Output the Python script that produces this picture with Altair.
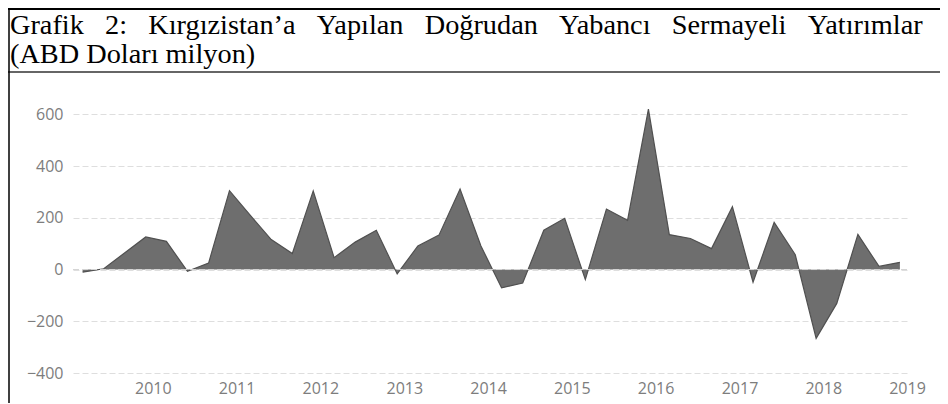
import altair as alt
import pandas as pd

# Quarterly FDI inflows to Kyrgyzstan (USD million)
dates = [
    "2009-03-01", "2009-06-01", "2009-09-01", "2009-12-01",
    "2010-03-01", "2010-06-01", "2010-09-01", "2010-12-01",
    "2011-03-01", "2011-06-01", "2011-09-01", "2011-12-01",
    "2012-03-01", "2012-06-01", "2012-09-01", "2012-12-01",
    "2013-03-01", "2013-06-01", "2013-09-01", "2013-12-01",
    "2014-03-01", "2014-06-01", "2014-09-01", "2014-12-01",
    "2015-03-01", "2015-06-01", "2015-09-01", "2015-12-01",
    "2016-03-01", "2016-06-01", "2016-09-01", "2016-12-01",
    "2017-03-01", "2017-06-01", "2017-09-01", "2017-12-01",
    "2018-03-01", "2018-06-01", "2018-09-01", "2018-12-01",
]
values = [
    -10, 3, 65, 126,
    109, -7, 25, 305,
    210, 116, 62, 304,
    46, 106, 152, -17,
    91, 133, 311, 91,
    -71, -52, 152, 198,
    -39, 234, 190, 620,
    135, 120, 81, 243,
    -49, 182, 57, -266,
    -131, 136, 12, 28,
]
y_ticks = [-400, -200, 0, 200, 400, 600]
x_years = [2010, 2011, 2012, 2013, 2014, 2015, 2016, 2017, 2018, 2019]

title_words = ["Grafik", "2:", "Kırgızistan’a", "Yapılan", "Doğrudan",
               "Yabancı", "Sermayeli", "Yatırımlar"]
title_line2 = "(ABD Doları milyon)"

NB = "\u00a0"
title_line1 = (NB * 3).join(title_words)

df = pd.DataFrame({"date": dates, "value": values})
one = pd.DataFrame({"a": [0]})

W, H = 834, 269

x_enc = alt.X(
    "date:T",
    scale=alt.Scale(type="utc",
                    domain=[alt.DateTime(year=2009, month=1, date=18, utc=True),
                            alt.DateTime(year=2019, month=1, date=1, utc=True)]),
    axis=alt.Axis(
        values=[alt.DateTime(year=y, month=1, date=1, utc=True) for y in x_years],
        labelExpr="utcFormat(datum.value, '%Y')",
        grid=False, ticks=False, domain=False,
        labelPadding=7, labelFlush=False, labelOverlap=False,
        labelFont="Open Sans", labelFontSize=16, labelColor="#7d7d7d",
        title=None,
    ),
)
y_enc = alt.Y(
    "value:Q",
    scale=alt.Scale(domain=[-400, 640], nice=False, zero=False),
    axis=alt.Axis(
        values=y_ticks, grid=True, gridDash=[6, 3], gridColor="#dedede",
        gridWidth=1, ticks=False, domain=False, labelPadding=10,
        labelFont="Open Sans", labelFontSize=16, labelColor="#7d7d7d",
        title=None,
    ),
)

area = alt.Chart(df).mark_area(
    color="#6e6e6e", opacity=1,
    line={"color": "#505050", "strokeWidth": 1.2},
).encode(x=x_enc, y=y_enc)

zero_line = alt.Chart(one).mark_rule(
    color="#d4d4d4", strokeDash=[6, 3], strokeWidth=1
).encode(y=alt.datum(0))

frame_top = alt.Chart(one).mark_rule(color="#000000", strokeWidth=2).encode(
    x=alt.value(-65), x2=alt.value(W + 33), y=alt.value(-95))
frame_sep = alt.Chart(one).mark_rule(color="#333333", strokeWidth=1.5).encode(
    x=alt.value(-65), x2=alt.value(W + 33), y=alt.value(-32))
frame_left = alt.Chart(one).mark_rule(color="#000000", strokeWidth=1.5).encode(
    x=alt.value(-64), y=alt.value(-96), y2=alt.value(H + 40))

title_style = dict(font="Liberation Serif", fontSize=28.3, fontWeight="normal",
                   color="#000000", align="left", baseline="alphabetic")
title1 = alt.Chart(one).mark_text(**title_style).encode(
    x=alt.value(-63), y=alt.value(-70), text=alt.value(title_line1))
title2 = alt.Chart(one).mark_text(**title_style).encode(
    x=alt.value(-63), y=alt.value(-41), text=alt.value(title_line2))

chart = alt.layer(
    area, zero_line, frame_top, frame_sep, frame_left, title1, title2
).properties(
    width=W, height=H,
    autosize=alt.AutoSizeParams(type="none"),
    padding={"left": 65, "top": 96, "right": 33, "bottom": 30},
).configure_view(stroke=None)

chart.save("out.html", embed_options={"renderer": "svg", "actions": False})
